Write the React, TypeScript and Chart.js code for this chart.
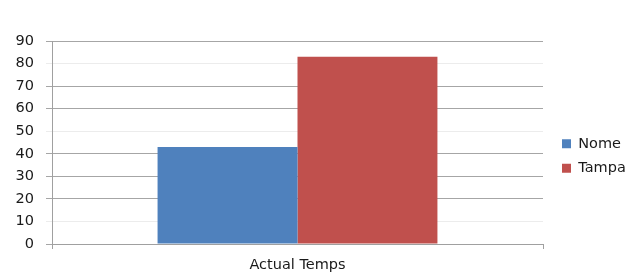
import React, { useEffect, useRef } from "react";
import { Chart, registerables } from "chart.js";

Chart.register(...registerables);

const categories = ["Actual Temps"];
const seriesNames = ["Nome", "Tampa"];
const nomeValues = [43];
const tampaValues = [83];
const yTicks = [0, 10, 20, 30, 40, 50, 60, 70, 80, 90];
const faintTicks = [10, 50, 80];

const FONT = "'DejaVu Sans', sans-serif";

export default function App() {
  const ref = useRef<HTMLCanvasElement | null>(null);

  useEffect(() => {
    document.body.style.margin = "0";
    const canvas = ref.current!;
    const legendTweak = {
      id: "legendTweak",
      beforeLayout(chart: any) {
        const lg = chart.legend;
        if (lg && !lg.__wrapped) {
          const f = lg.fit.bind(lg);
          lg.fit = function () {
            f();
            this.width = 96;
          };
          lg.__wrapped = true;
        }
      },
      afterLayout(chart: any) {
        const lg = chart.legend;
        if (lg) {
          lg.left += 9;
          lg.right += 9;
          lg.top -= 4;
          lg.bottom -= 4;
        }
      },
    };
    const chart = new Chart(canvas, {
      type: "bar",
      data: {
        labels: categories,
        datasets: [
          {
            label: seriesNames[0],
            data: nomeValues,
            backgroundColor: "#4F81BD",
            barPercentage: 1,
            categoryPercentage: 0.57,
          },
          {
            label: seriesNames[1],
            data: tampaValues,
            backgroundColor: "#C0504D",
            barPercentage: 1,
            categoryPercentage: 0.57,
          },
        ],
      },
      options: {
        responsive: false,
        animation: false,
        devicePixelRatio: 1,
        layout: { padding: { top: 41, right: 0, bottom: 0, left: 0 } },
        plugins: {
          tooltip: { enabled: false },
          legend: {
            position: "right",
            align: "center",
            labels: {
              boxWidth: 9,
              boxHeight: 9,
              padding: 10,
              color: "#1a1a1a",
              font: { family: FONT, size: 14.5 },
            },
          },
        },
        scales: {
          x: {
            grid: {
              display: true,
              drawOnChartArea: false,
              tickLength: 5,
              color: "#a0a0a0",
            },
            border: { display: true, color: "#a0a0a0" },
            ticks: {
              color: "#1a1a1a",
              padding: 8,
              font: { family: FONT, size: 14.5 },
            },
            afterFit(scale: any) {
              scale.height = 35;
            },
          },
          y: {
            min: 0,
            max: 90,
            afterBuildTicks(scale: any) {
              scale.ticks = yTicks.map((v) => ({ value: v }));
            },
            grid: {
              tickLength: 6,
              color: (ctx: any) =>
                faintTicks.includes(ctx.tick?.value) ? "#ececec" : "#a6a6a6",
            },
            border: { display: true, color: "#a0a0a0" },
            ticks: {
              color: "#1a1a1a",
              padding: 12,
              font: { family: FONT, size: 14.5 },
            },
            afterFit(scale: any) {
              scale.width = 52;
            },
          },
        },
      },
      plugins: [legendTweak],
    });
    return () => chart.destroy();
  }, []);

  return (
    <div style={{ position: "fixed", left: 0, top: 0, width: 639, height: 279, background: "#fff" }}>
      <canvas ref={ref} width={639} height={279} />
    </div>
  );
}
